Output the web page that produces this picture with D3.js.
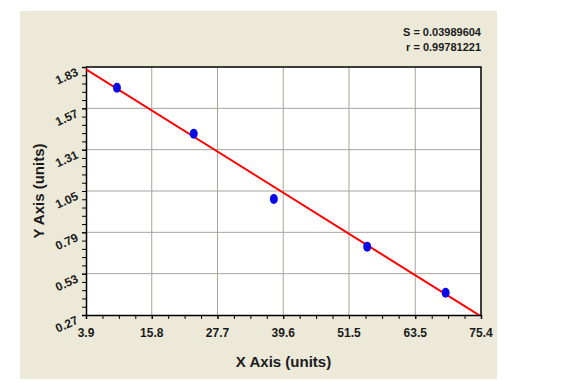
<!DOCTYPE html>
<html>
<head>
<meta charset="utf-8">
<script src="https://cdn.jsdelivr.net/npm/d3@7"></script>
<style>
  body { margin: 0; background: #fff; }
  text { font-family: "Liberation Sans", Arial, sans-serif; font-weight: bold; fill: #1a1a1a; }
</style>
</head>
<body>
<div id="chart"></div>
<script>
// data
const xVals = [9.5, 23.4, 37.9, 54.8, 69.0];
const yVals = [1.70, 1.41, 1.00, 0.70, 0.41];
const xTicks = [3.9, 15.8, 27.7, 39.6, 51.5, 63.5, 75.4];
const yTicks = [0.27, 0.53, 0.79, 1.05, 1.31, 1.57, 1.83];
const fit = [1.90, -0.02173]; // intercept, slope
const stats = ["S = 0.03989604", "r = 0.99781221"];

const W = 565, H = 385;
const plot = { left: 86, top: 67, right: 481, bottom: 315 };

const svg = d3.select("#chart").append("svg")
  .attr("width", W)
  .attr("height", H);

// beige panel
svg.append("rect")
  .attr("x", 20).attr("y", 11)
  .attr("width", 477).attr("height", 368)
  .attr("fill", "#ECE9D8");

const x = d3.scaleLinear().domain([3.9, 75.4]).range([plot.left, plot.right]);
const y = d3.scaleLinear().domain([0.27, 1.83]).range([plot.bottom, plot.top]);

svg.append("rect")
  .attr("x", plot.left).attr("y", plot.top)
  .attr("width", plot.right - plot.left).attr("height", plot.bottom - plot.top)
  .attr("fill", "#fff");

// grid
svg.append("g").selectAll("line")
  .data(xTicks.slice(1, -1))
  .enter().append("line")
  .attr("x1", d => x(d)).attr("x2", d => x(d))
  .attr("y1", plot.top).attr("y2", plot.bottom)
  .attr("stroke", "#a8a49a").attr("stroke-width", 1);
svg.append("g").selectAll("line")
  .data(yTicks.slice(1, -1))
  .enter().append("line")
  .attr("y1", d => y(d)).attr("y2", d => y(d))
  .attr("x1", plot.left).attr("x2", plot.right)
  .attr("stroke", "#a8a49a").attr("stroke-width", 1);

// minor ticks (4 per x interval, 5 per y interval)
const xMinor = [];
for (let i = 0; i < xTicks.length - 1; i++) {
  for (let k = 0; k <= 4; k++) xMinor.push(xTicks[i] + (xTicks[i + 1] - xTicks[i]) * k / 4);
}
const yMinor = [];
for (let i = 0; i < yTicks.length - 1; i++) {
  for (let k = 0; k <= 5; k++) yMinor.push(yTicks[i] + (yTicks[i + 1] - yTicks[i]) * k / 5);
}

// axes
const xAxis = svg.append("g")
  .attr("transform", `translate(0,${plot.bottom})`)
  .call(d3.axisBottom(x).tickValues(xMinor).tickSize(4).tickFormat(""));
const yAxis = svg.append("g")
  .attr("transform", `translate(${plot.left},0)`)
  .call(d3.axisLeft(y).tickValues(yMinor).tickSize(4).tickFormat(""));
[xAxis, yAxis].forEach(g => {
  g.select(".domain").attr("stroke", "#000").attr("stroke-width", 1.5);
  g.selectAll(".tick line").attr("stroke", "#000");
});

// top and right border
svg.append("path")
  .attr("d", `M${plot.left},${plot.top}H${plot.right}V${plot.bottom}`)
  .attr("fill", "none").attr("stroke", "#000").attr("stroke-width", 1.5);

// tick labels
svg.append("g").selectAll("text")
  .data(xTicks)
  .enter().append("text")
  .attr("x", d => x(d))
  .attr("y", plot.bottom + 22)
  .attr("text-anchor", "middle")
  .attr("font-size", 12)
  .text(d => d.toFixed(1));

svg.append("g").selectAll("text")
  .data(yTicks)
  .enter().append("text")
  .attr("transform", d => `translate(${plot.left - 7},${y(d) + 8}) rotate(-25)`)
  .attr("text-anchor", "end")
  .attr("font-size", 12)
  .text(d => d.toFixed(2));

// axis titles
svg.append("text")
  .attr("x", (plot.left + plot.right) / 2)
  .attr("y", 367)
  .attr("text-anchor", "middle")
  .attr("font-size", 15)
  .text("X Axis (units)");
svg.append("text")
  .attr("transform", `translate(44,${(plot.top + plot.bottom) / 2}) rotate(-90)`)
  .attr("text-anchor", "middle")
  .attr("font-size", 15)
  .text("Y Axis (units)");

// stats
svg.append("g").selectAll("text")
  .data(stats)
  .enter().append("text")
  .attr("x", plot.right)
  .attr("y", (d, i) => 36 + i * 15)
  .attr("text-anchor", "end")
  .attr("font-size", 11)
  .text(d => d);

// regression line, clipped to plot
svg.append("clipPath").attr("id", "clip")
  .append("rect")
  .attr("x", plot.left).attr("y", plot.top)
  .attr("width", plot.right - plot.left).attr("height", plot.bottom - plot.top);

const line = d3.line().x(d => x(d)).y(d => y(fit[0] + fit[1] * d));
svg.append("path")
  .datum([3.9, 75.4])
  .attr("clip-path", "url(#clip)")
  .attr("d", line)
  .attr("fill", "none")
  .attr("stroke", "#ff0000")
  .attr("stroke-width", 2);

// points
svg.append("g").selectAll("ellipse")
  .data(xVals.map((d, i) => [d, yVals[i]]))
  .enter().append("ellipse")
  .attr("cx", d => x(d[0]))
  .attr("cy", d => y(d[1]))
  .attr("rx", 4)
  .attr("ry", 5)
  .attr("fill", "#0a0ae6");
</script>
</body>
</html>
